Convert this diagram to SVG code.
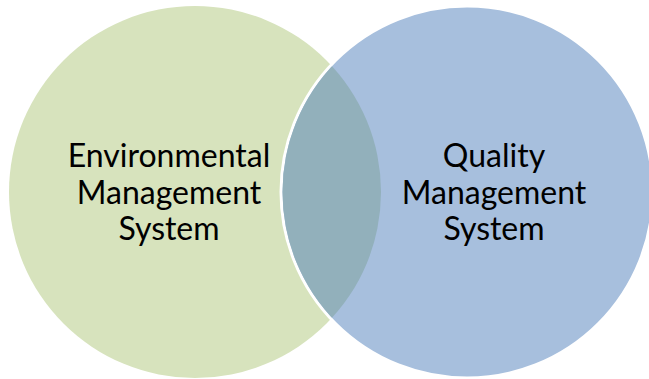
<svg xmlns="http://www.w3.org/2000/svg" width="649" height="379" viewBox="0 0 649 379">
<style>
.lbl{font-family:Lato,"Open Sans","Liberation Sans",sans-serif;font-size:32px;fill:#000;text-anchor:middle}
</style>
<defs>
<clipPath id="inRight"><circle cx="467" cy="192" r="184.5"/></clipPath>
</defs>
<rect width="649" height="379" fill="#ffffff"/>
<g id="env">
<circle cx="195" cy="192" r="186" fill="#d7e3bd"/>
</g>
<g id="qms">
<circle cx="467" cy="192" r="186" fill="#a7bfdd" stroke="#ffffff" stroke-width="3"/>
</g>
<g id="overlap">
<circle cx="195" cy="192" r="186" fill="#92b0bb" clip-path="url(#inRight)"/>
</g>
<g id="env-label">
<text class="lbl" x="169" y="167">Environmental</text>
<text class="lbl" x="169" y="203.5">Management</text>
<text class="lbl" x="169" y="240">System</text>
</g>
<g id="qms-label">
<text class="lbl" x="494" y="167">Quality</text>
<text class="lbl" x="494" y="203.5">Management</text>
<text class="lbl" x="494" y="240">System</text>
</g>
<g id="connectors"></g>
</svg>
